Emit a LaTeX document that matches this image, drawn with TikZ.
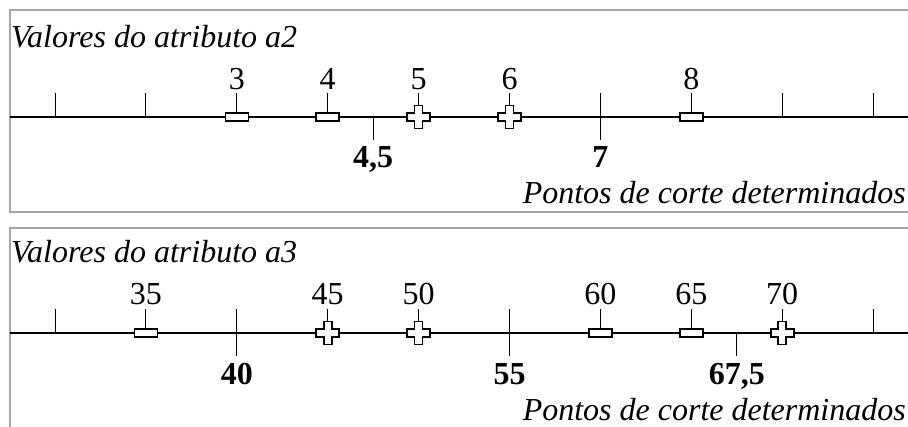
\documentclass[tikz,border=0pt]{standalone}
\usepackage{fontspec}
\setmainfont{Liberation Serif}
\definecolor{framegray}{HTML}{A6A6A6}
\begin{document}
\begin{tikzpicture}[x=1pt,y=1pt,
  every node/.style={font=\fontsize{32}{38}\selectfont, inner sep=0pt},
  frameline/.style={draw=framegray, line width=2pt},
  axisline/.style={line width=2pt, black},
  tickline/.style={line width=1pt},
  rectmark/.style={draw, fill=white, line width=1.6pt, minimum width=23pt, minimum height=8pt, inner sep=0pt},
  valuelabel/.style={anchor=base},
  cutlabel/.style={anchor=base, font=\fontsize{32}{38}\selectfont\bfseries},
  titletext/.style={anchor=base west, font=\fontsize{32}{38}\selectfont\itshape},
  foottext/.style={anchor=base east, font=\fontsize{32}{38}\selectfont\itshape},
  plusmark/.pic={\draw[fill=white, line width=1.6pt] (-4,11.5) -- (4,11.5) -- (4,4) -- (11.5,4) -- (11.5,-4) -- (4,-4) -- (4,-11.5) -- (-4,-11.5) -- (-4,-4) -- (-11.5,-4) -- (-11.5,4) -- (-4,4) -- cycle;
    \coordinate (-top) at (0,11.5);}
]
\useasboundingbox (0,0) rectangle (908,-427);

% frames
\draw[frameline] (910,-10) -- (10,-10) -- (10,-212) -- (910,-212);
\draw[frameline] (910,-228) -- (10,-228) -- (10,-429);

% ---------- top panel ----------
\begin{scope}
\coordinate (aL) at (10,-117);
\coordinate (aR) at (908,-117);
\draw[axisline] (aL) -- (aR);
\node[titletext] (t1) at (11,-48) {Valores do atributo a2};
\node[foottext] (f1) at (906,-204) {Pontos de corte determinados};
% plain ticks
\foreach \x/\n in {55/a, 145.9/b, 782.2/c, 873.1/d}{
  \coordinate (tk1\n) at (\x,-117);
  \draw[tickline] (tk1\n) -- ++(0,24);
}
% rectangle markers
\foreach \x/\v in {236.8/3, 327.7/4, 691.3/8}{
  \node[rectmark] (r1\v) at (\x,-117) {};
  \coordinate (s1\v) at (\x,-93);
  \draw[tickline] (r1\v.north) -- (s1\v);
  \node[valuelabel] (l1\v) at (\x,-90) {\v};
}
% plus markers
\foreach \x/\v in {418.6/5, 509.5/6}{
  \pic (p1\v) at (\x,-117) {plusmark};
  \coordinate (s1\v) at (\x,-93);
  \draw[tickline] (p1\v-top) -- (s1\v);
  \node[valuelabel] (l1\v) at (\x,-90) {\v};
}
% cut points
\coordinate (c1a) at (373.2,-117);
\coordinate (c1ab) at (373.2,-140);
\draw[tickline] (c1a) -- (c1ab);
\node[cutlabel] (cl1a) at (373.2,-168) {4,5};
\coordinate (c1bt) at (600.4,-93);
\coordinate (c1bb) at (600.4,-140);
\draw[tickline] (c1bt) -- (c1bb);
\node[cutlabel] (cl1b) at (600.4,-168) {7};
\end{scope}

% ---------- bottom panel ----------
\begin{scope}[yshift=-216pt]
\coordinate (bL) at (10,-117);
\coordinate (bR) at (908,-117);
\draw[axisline] (bL) -- (bR);
\node[titletext] (t2) at (11,-47) {Valores do atributo a3};
\node[foottext] (f2) at (906,-205) {Pontos de corte determinados};
\foreach \x/\n in {55/a, 873.1/d}{
  \coordinate (tk2\n) at (\x,-117);
  \draw[tickline] (tk2\n) -- ++(0,24);
}
\foreach \x/\v in {145.9/35, 600.4/60, 691.3/65}{
  \node[rectmark] (r2\v) at (\x,-117) {};
  \coordinate (s2\v) at (\x,-93);
  \draw[tickline] (r2\v.north) -- (s2\v);
  \node[valuelabel] (l2\v) at (\x,-89) {\v};
}
\foreach \x/\v in {327.7/45, 418.6/50, 782.2/70}{
  \pic (p2\v) at (\x,-117) {plusmark};
  \coordinate (s2\v) at (\x,-93);
  \draw[tickline] (p2\v-top) -- (s2\v);
  \node[valuelabel] (l2\v) at (\x,-89) {\v};
}
\coordinate (c2at) at (236.8,-93);
\coordinate (c2ab) at (236.8,-140);
\draw[tickline] (c2at) -- (c2ab);
\node[cutlabel] (cl2a) at (236.8,-169) {40};
\coordinate (c2bt) at (509.5,-93);
\coordinate (c2bb) at (509.5,-140);
\draw[tickline] (c2bt) -- (c2bb);
\node[cutlabel] (cl2b) at (509.5,-169) {55};
\coordinate (c2c) at (736.8,-117);
\coordinate (c2cb) at (736.8,-140);
\draw[tickline] (c2c) -- (c2cb);
\node[cutlabel] (cl2c) at (736.8,-169) {67,5};
\end{scope}
\end{tikzpicture}
\end{document}
